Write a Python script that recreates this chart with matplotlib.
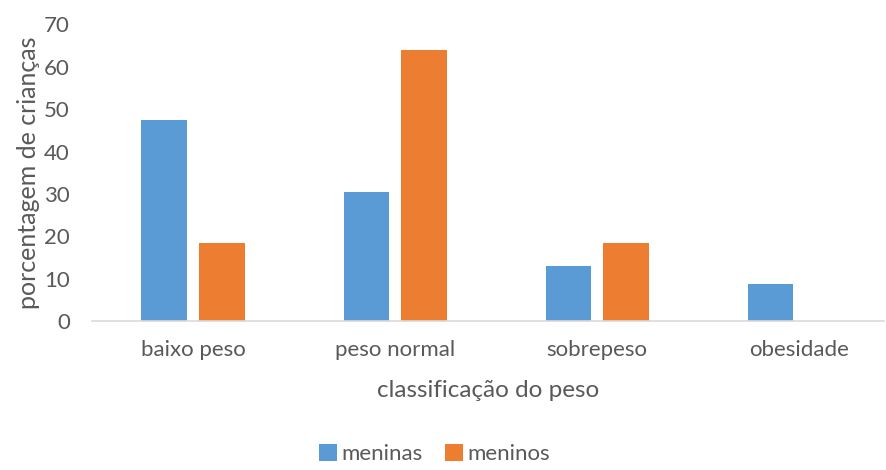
import matplotlib.pyplot as plt
import numpy as np

# data
categorias = ['baixo peso', 'peso normal', 'sobrepeso', 'obesidade']
meninas = [47.5, 30.5, 13.1, 8.8]
meninos = [18.3, 63.9, 18.3, 0]

azul = '#5B9BD5'
laranja = '#ED7D31'
cinza = '#595959'

plt.rcParams['font.family'] = ['Lato', 'DejaVu Sans']

fig = plt.figure(figsize=(8.87, 4.7), dpi=100)
ax = fig.add_axes([0.1037, 0.317, 0.893, 0.631])

x = np.arange(len(categorias))
w = 0.224
ax.bar(x - 0.143, meninas, w, color=azul, label='meninas')
ax.bar(x + 0.143, meninos, w, color=laranja, label='meninos')

ax.set_xlim(-0.5, 3.42)
ax.set_ylim(0, 70)
ax.set_yticks(range(0, 71, 10))
ax.set_xticks(x)
ax.set_xticklabels(categorias)

# excel-like look: no frame except bottom line, no ticks
for s in ['top', 'right', 'left']:
    ax.spines[s].set_visible(False)
ax.spines['bottom'].set_color('#D9D9D9')
ax.spines['bottom'].set_linewidth(1.2)
ax.tick_params(axis='both', length=0, colors=cinza, labelsize=16)
ax.tick_params(axis='x', pad=14)
ax.tick_params(axis='y', pad=16)

ax.set_xlabel('classificação do peso', fontsize=17.5, color=cinza, labelpad=14)
ax.set_ylabel('porcentagem de crianças', fontsize=18, color=cinza, labelpad=3)

fig.legend(loc='lower center', bbox_to_anchor=(0.49, -0.03), ncol=2, frameon=False,
           fontsize=16, labelcolor=cinza, handlelength=0.8, handleheight=0.8,
           handletextpad=0.2, columnspacing=1.0)

fig.savefig('out.png', dpi=100)
